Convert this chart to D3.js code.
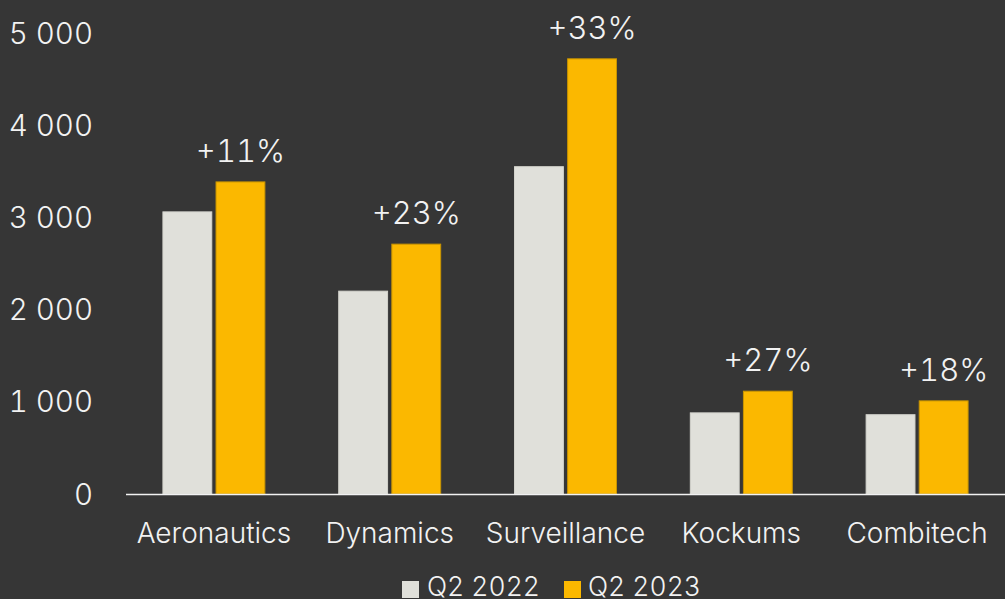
<!DOCTYPE html>
<html><head><meta charset="utf-8">
<script src="https://cdn.jsdelivr.net/npm/d3@7"></script>
<style>
html,body{margin:0;padding:0;background:#363636;}
svg{display:block;}
text{font-family:Inter, Roboto, "Liberation Sans", sans-serif;font-weight:300;fill:#f2f2f2;font-variant-numeric:tabular-nums;}
</style></head>
<body>
<svg id="c" width="1005" height="599"></svg>
<script>
const categories = ["Aeronautics","Dynamics","Surveillance","Kockums","Combitech"];
const seriesNames = ["Q2 2022","Q2 2023"];
const q2_2022 = [3060, 2200, 3550, 880, 860];
const q2_2023 = [3385, 2710, 4720, 1115, 1010];
const changeLabels = ["+11%","+23%","+33%","+27%","+18%"];
const yTicks = [0,1000,2000,3000,4000,5000];
const colors = ["#e0e0da","#fbb800"];
const strokes = ["#d4d4cd","#c99400"];

const svg = d3.select("#c");
const x = d3.scaleBand().domain(categories).range([126,1005]).paddingInner(0.42).paddingOuter(0.21);
const x1 = d3.scaleBand().domain(seriesNames).range([0,x.bandwidth()]).paddingInner(0.08);
const y = d3.scaleLinear().domain([0,5000]).range([494,33]);

const fmt = v => d3.format(",")(v).replace(/,/g," ");
svg.append("g").selectAll("text").data(yTicks).join("text")
  .attr("x",93).attr("y",d=>y(d)).attr("dy","0.36em")
  .attr("text-anchor","end").style("font-size","29.5px").text(fmt);

const series = [q2_2022,q2_2023];
series.forEach((vals,si)=>{
  svg.append("g").selectAll("rect").data(categories).join("rect")
    .attr("x",(c)=>x(c)+x1(seriesNames[si]))
    .attr("y",(c,i)=>y(vals[i]))
    .attr("width",x1.bandwidth())
    .attr("height",(c,i)=>y(0)-y(vals[i]))
    .attr("fill",colors[si])
    .attr("stroke",strokes[si]).attr("stroke-width",1);
});

svg.append("line").attr("x1",126).attr("x2",1005).attr("y1",y(0)+0.5).attr("y2",y(0)+0.5)
  .attr("stroke","#f2f2f2").attr("stroke-width",1.5);

svg.append("g").selectAll("text").data(categories).join("text")
  .attr("x",c=>x(c)+x1(seriesNames[1])+x1.bandwidth()/2)
  .attr("y",(c,i)=>y(q2_2023[i])-20)
  .attr("text-anchor","middle").style("font-size","31px")
  .text((c,i)=>changeLabels[i]);

svg.append("g").selectAll("text").data(categories).join("text")
  .attr("x",c=>x(c)+x.bandwidth()/2).attr("y",543)
  .attr("text-anchor","middle").style("font-size","28px").text(c=>c);

const leg = [{x:402,tx:427},{x:564,tx:588}];
seriesNames.forEach((n,i)=>{
  svg.append("rect").attr("x",leg[i].x).attr("y",581).attr("width",17).attr("height",17).attr("fill",colors[i]);
  svg.append("text").attr("x",leg[i].tx).attr("y",596).style("font-size","26.5px").text(n);
});
</script>
</body></html>
